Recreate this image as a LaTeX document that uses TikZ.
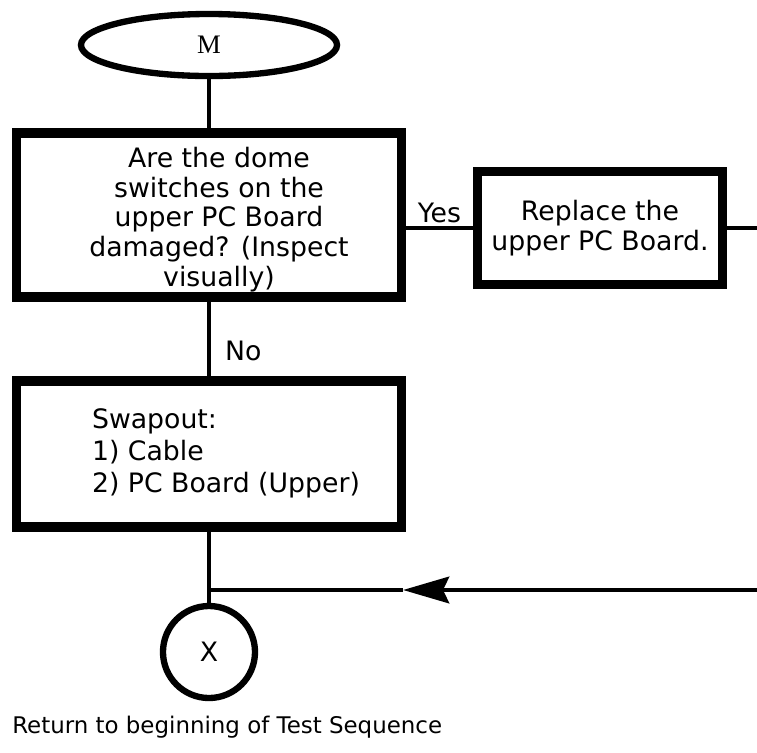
\documentclass[tikz,border=0pt]{standalone}
\usepackage{fontspec}
\setmainfont{DejaVu Sans}
\newfontfamily\termfont{Liberation Serif}
\usepackage{tikz}
\usetikzlibrary{positioning, shapes, arrows.meta, shapes.geometric}
\tikzset{>=latex}
\tikzset{
    terminal/.style = {ellipse, draw, line width=4.5pt, minimum width=6.4cm,
                        minimum height=1.55cm, inner sep=0pt, font=\termfont\fontsize{19}{21}\selectfont},
    action/.style = {rectangle, draw, line width=6.5pt, align=center,
                        font=\fontsize{19}{21.3}\selectfont},
    connector/.style = {circle, draw, line width=4.5pt, minimum size=2.3cm,
                        inner sep=0pt, font=\fontsize{19}{21}\selectfont},
    flow/.style = {line width=3pt},
    lbl/.style = {font=\fontsize{19}{21}\selectfont, inner sep=2pt}
}

\begin{document}
\begin{tikzpicture}[x=0.025cm, y=-0.025cm]
		\useasboundingbox (0,0) rectangle (757,752);
		\node (m) [terminal] at (209,45) {M};
		\node (q) [action, inner ysep=0pt, minimum width=9.625cm, minimum height=4.1cm] at (209,215)
			{\begin{tabular}{@{\hspace{0.5cm}}c@{}}\noalign{\vskip 0.3cm}Are the dome\\ switches on the\\ upper PC Board\\ damaged? (Inspect\\ visually)\end{tabular}};
		\node (repl) [action, minimum width=6.125cm, minimum height=2.825cm] at (600,228)
			{Replace the\\ upper PC Board.};
		\node (swap) [action, minimum width=9.625cm, minimum height=3.65cm] at (209,454)
			{\renewcommand{\arraystretch}{1.08}\begin{tabular}{@{\hspace{0.85cm}}l@{}}Swapout:\\ 1) Cable\\ 2) PC Board (Upper)\end{tabular}};
		\node (x) [connector] at (209,652) {X};
		\node (ret) [lbl, anchor=west, inner sep=0pt, font=\fontsize{16.3}{18}\selectfont] at (12,727)
			{Return to beginning of Test Sequence};
		\coordinate (rout) at (757,228);
		\coordinate (rin) at (757,590);
		\coordinate (tip) at (403,590);
		\coordinate (join) at (209,590);
		\draw [flow] (m) -- (q);
		\draw [flow] (q.east |- repl.west) -- node[lbl, above] {Yes} (repl.west);
		\draw [flow] (repl.east) -- (rout);
		\draw [flow] (q) -- node[lbl, pos=0.66, right=8pt] {No} (swap);
		\draw [flow] (swap) -- (x);
		\draw [flow, line width=3.5pt, -{Stealth[length=1.15cm, width=0.66cm, inset=0.15cm]}] (rin) -- (tip);
		\draw [flow, line width=3.5pt] (tip) -- (join);
	\end{tikzpicture}
\end{document}
